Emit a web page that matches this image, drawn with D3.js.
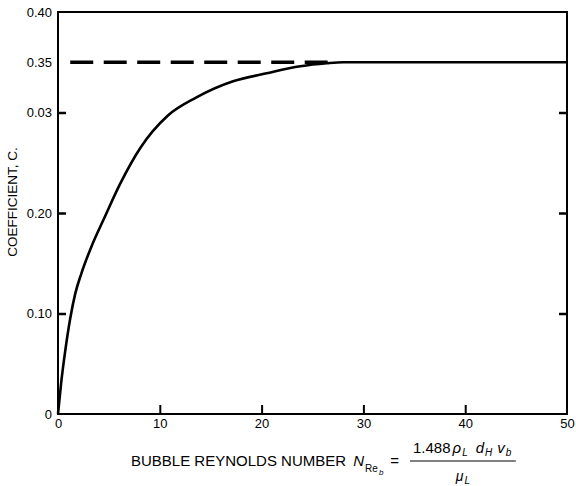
<!DOCTYPE html>
<html>
<head>
<meta charset="utf-8">
<script src="https://cdn.jsdelivr.net/npm/d3@7"></script>
<style>
  html, body { margin: 0; padding: 0; background: #fff; }
  svg { display: block; }
  text { font-family: "Liberation Sans", Arial, Helvetica, sans-serif; fill: #000; }
</style>
</head>
<body>
<svg id="chart" width="576" height="486"></svg>
<script>
// Bubble Reynolds number vs. coefficient C
const reynolds = [0, 0.3, 0.7, 1.2, 1.7, 2.3, 3.3, 4.5, 6.1, 8.1, 10.8, 13.6, 17.2, 20.5, 23.8, 26.4, 28, 35, 42, 50];
const coef     = [0, 0.030, 0.062, 0.095, 0.120, 0.140, 0.167, 0.194, 0.229, 0.265, 0.297, 0.315, 0.331, 0.339, 0.346, 0.349, 0.350, 0.350, 0.350, 0.350];

// Limiting value drawn as a dashed asymptote
const asymptote = 0.35;
const asymptoteSpan = [1.2, 27.3];

// Axis ticks and their printed labels
const xTickValues = [0, 10, 20, 30, 40, 50];
const yTickValues = [0, 0.10, 0.20, 0.30, 0.35, 0.40];
const yTickLabels = ["0", "0.10", "0.20", "0.03", "0.35", "0.40"];
const yInnerTicks = [0.10, 0.20, 0.30];

const svg = d3.select("#chart");
const plotLeft = 58, plotRight = 567, plotTop = 12, plotBottom = 414;

const x = d3.scaleLinear().domain([0, 50]).range([plotLeft, plotRight]);
const y = d3.scaleLinear().domain([0, 0.40]).range([plotBottom, plotTop]);

// Left axis: labels for every value, inward tick marks only at the major levels
const yAxisG = svg.append("g")
  .attr("transform", `translate(${plotLeft},0)`)
  .call(d3.axisLeft(y)
    .tickValues(yTickValues)
    .tickFormat((d, i) => yTickLabels[i])
    .tickSizeInner(-8)
    .tickSizeOuter(0)
    .tickPadding(6));
yAxisG.select(".domain").remove();
yAxisG.selectAll(".tick line")
  .attr("stroke", "#000").attr("stroke-width", 2.5)
  .attr("display", d => yInnerTicks.includes(d) ? null : "none");
yAxisG.selectAll(".tick text").attr("font-size", 13).style("font-family", "'Liberation Sans', Arial, sans-serif");

// Right axis: tick marks only
const yAxisR = svg.append("g")
  .attr("transform", `translate(${plotRight},0)`)
  .call(d3.axisRight(y).tickValues(yInnerTicks).tickFormat("").tickSizeInner(-8).tickSizeOuter(0));
yAxisR.select(".domain").remove();
yAxisR.selectAll(".tick line").attr("stroke", "#000").attr("stroke-width", 2.5);

// Bottom axis
const xAxisG = svg.append("g")
  .attr("transform", `translate(0,${plotBottom})`)
  .call(d3.axisBottom(x)
    .tickValues(xTickValues)
    .tickSizeInner(-9)
    .tickSizeOuter(0)
    .tickPadding(5));
xAxisG.select(".domain").remove();
xAxisG.selectAll(".tick line")
  .attr("stroke", "#000").attr("stroke-width", 2)
  .attr("display", d => (d === 0 || d === 50) ? "none" : null);
xAxisG.selectAll(".tick text").attr("font-size", 13).style("font-family", "'Liberation Sans', Arial, sans-serif");

// Plot frame
svg.append("rect")
  .attr("x", plotLeft).attr("y", plotTop)
  .attr("width", plotRight - plotLeft).attr("height", plotBottom - plotTop)
  .attr("fill", "none").attr("stroke", "#000").attr("stroke-width", 2);

// Dashed asymptote
svg.append("line")
  .attr("x1", x(asymptoteSpan[0])).attr("x2", x(asymptoteSpan[1]))
  .attr("y1", y(asymptote)).attr("y2", y(asymptote))
  .attr("stroke", "#000").attr("stroke-width", 3.5)
  .attr("stroke-dasharray", "23,10.5");

// Coefficient curve
const line = d3.line()
  .x((d, i) => x(reynolds[i]))
  .y((d, i) => y(coef[i]))
  .curve(d3.curveMonotoneX);
svg.append("path")
  .datum(coef)
  .attr("d", line)
  .attr("fill", "none")
  .attr("stroke", "#000")
  .attr("stroke-width", 2.6)
  .attr("stroke-linejoin", "round");

// Y axis title
svg.append("text")
  .attr("transform", "translate(17,202) rotate(-90)")
  .attr("text-anchor", "middle")
  .attr("font-size", 13.5)
  .text("COEFFICIENT, C.");

// X axis title: text part with subscripted symbol
const title = svg.append("text")
  .attr("x", 131).attr("y", 466)
  .attr("font-size", 15);
title.append("tspan").text("BUBBLE REYNOLDS NUMBER ");
title.append("tspan").attr("font-style", "italic").attr("dx", 3).text("N");
title.append("tspan").attr("font-size", 10).attr("dy", 6).attr("dx", 1).text("Re");
title.append("tspan").attr("font-size", 8).attr("font-style", "italic").attr("dy", 3).attr("dx", 1).text("b");
title.append("tspan").attr("dy", -9).attr("dx", 7).text("=");

// Fraction
const fx = 413;
const num = svg.append("text").attr("x", fx).attr("y", 453).attr("font-size", 15);
num.append("tspan").text("1.488");
num.append("tspan").attr("font-style", "italic").attr("dx", 2).text("ρ");
num.append("tspan").attr("font-style", "italic").attr("font-size", 10).attr("dy", 3).attr("dx", 1).text("L");
num.append("tspan").attr("font-style", "italic").attr("dy", -3).attr("dx", 8).text("d");
num.append("tspan").attr("font-style", "italic").attr("font-size", 10).attr("dy", 3).attr("dx", 1).text("H");
num.append("tspan").attr("font-style", "italic").attr("dy", -3).attr("dx", 5).text("v");
num.append("tspan").attr("font-style", "italic").attr("font-size", 10).attr("dy", 3).attr("dx", 1).text("b");

const numBox = num.node().getBBox();
const fracX1 = fx - 3, fracX2 = numBox.x + numBox.width + 4;
svg.append("line")
  .attr("x1", fracX1).attr("x2", fracX2)
  .attr("y1", 461).attr("y2", 461)
  .attr("stroke", "#000").attr("stroke-width", 1);

const den = svg.append("text")
  .attr("x", (fracX1 + fracX2) / 2).attr("y", 481)
  .attr("text-anchor", "middle")
  .attr("font-size", 14);
den.append("tspan").attr("font-style", "italic").text("μ");
den.append("tspan").attr("font-style", "italic").attr("font-size", 10).attr("dy", 3).attr("dx", 1).text("L");
</script>
</body>
</html>
